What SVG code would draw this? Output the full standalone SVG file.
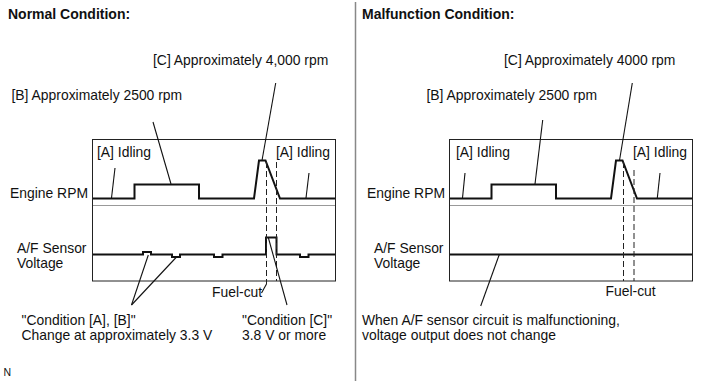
<svg xmlns="http://www.w3.org/2000/svg" width="713" height="381" viewBox="0 0 713 381">
<style>
text{font-family:"Liberation Sans",Arial,sans-serif;font-size:13.9px;fill:#111}
.title{font-weight:bold;font-size:14px}
.box{fill:none;stroke:#222;stroke-width:1}
.sep{stroke:#999;stroke-width:1.2}
.sig{fill:none;stroke:#111;stroke-width:2;stroke-linejoin:miter}
.lead{stroke:#111;stroke-width:1.1;fill:none}
.dash{stroke:#222;stroke-width:1;stroke-dasharray:6 3}
</style>
<rect width="713" height="381" fill="#fff"/>
<line x1="355.5" y1="2" x2="355.5" y2="381" stroke="#888" stroke-width="1.5"/>
<text x="3.5" y="376" style="font-size:10.5px">N</text>

<g id="normal">
  <text class="title" x="8" y="19">Normal Condition:</text>
  <text x="153" y="65">[C] Approximately 4,000 rpm</text>
  <text x="11.5" y="100">[B] Approximately 2500 rpm</text>
  <text x="97" y="157">[A] Idling</text>
  <text x="276" y="157">[A] Idling</text>
  <text x="10" y="198">Engine RPM</text>
  <text x="17" y="253">A/F Sensor</text>
  <text x="17" y="268">Voltage</text>
  <text x="212" y="297">Fuel-cut</text>
  <text x="21.5" y="324.5">"Condition [A], [B]"</text>
  <text x="21.5" y="340">Change at approximately 3.3 V</text>
  <text x="242" y="324.5">"Condition [C]"</text>
  <text x="242" y="340">3.8 V or more</text>
  <rect class="box" x="92.5" y="139.5" width="243" height="141.5"/>
  <line class="sep" x1="93" y1="205.5" x2="335" y2="205.5"/>
  <polyline class="sig" points="93,198.5 134.5,198.5 134.5,184.5 199,184.5 199,198.5 254,198.5 259,160.5 265.5,160.5 280,198.5 335,198.5"/>
  <polyline class="sig" points="93,254.5 143,254.5 143,252 151,252 151,254.5 172,254.5 172,257 180,257 180,254.5 214,254.5 214,257 222.5,257 222.5,254.5 266,254.5 266,237.5 276.5,237.5 276.5,254.5 300,254.5 300,257 308.5,257 308.5,254.5 335,254.5"/>
  <g id="normal-connectors">
    <line class="dash" x1="266.5" y1="162" x2="266.5" y2="284"/>
    <line class="dash" x1="276.5" y1="162" x2="276.5" y2="281"/>
    <line class="lead" x1="115" y1="168" x2="111.5" y2="198"/>
    <line class="lead" x1="309" y1="173" x2="306" y2="198"/>
    <line class="lead" x1="153" y1="122" x2="171" y2="184"/>
    <line class="lead" x1="275.7" y1="83" x2="262" y2="160.5"/>
    <line class="lead" x1="268.3" y1="237.5" x2="287" y2="305"/>
    <line class="lead" x1="131.5" y1="305" x2="148.3" y2="255"/>
    <line class="lead" x1="131.5" y1="305" x2="177" y2="256.5"/>
    <line class="lead" x1="261.5" y1="293" x2="266.5" y2="284"/>
  </g>
</g>

<g id="malfunction">
  <text class="title" x="362" y="19">Malfunction Condition:</text>
  <text x="504" y="65">[C] Approximately 4000 rpm</text>
  <text x="426.5" y="100">[B] Approximately 2500 rpm</text>
  <text x="456" y="157">[A] Idling</text>
  <text x="633" y="157">[A] Idling</text>
  <text x="367" y="198">Engine RPM</text>
  <text x="374" y="253">A/F Sensor</text>
  <text x="374" y="268">Voltage</text>
  <text x="605.5" y="296">Fuel-cut</text>
  <text x="362" y="324.5">When A/F sensor circuit is malfunctioning,</text>
  <text x="362" y="340">voltage output does not change</text>
  <rect class="box" x="449.5" y="139.5" width="243" height="141.5"/>
  <line class="sep" x1="450" y1="205.5" x2="692" y2="205.5"/>
  <polyline class="sig" points="450,198.5 491.5,198.5 491.5,184.5 556,184.5 556,198.5 611,198.5 616,160.5 622.5,160.5 637,198.5 692,198.5"/>
  <line class="sig" x1="450" y1="254.5" x2="692" y2="254.5"/>
  <g id="malfunction-connectors">
    <line class="dash" x1="623.5" y1="162" x2="623.5" y2="281"/>
    <line class="dash" x1="634" y1="170" x2="634" y2="281"/>
    <line class="lead" x1="465" y1="173" x2="462.5" y2="198"/>
    <line class="lead" x1="660" y1="173" x2="657.3" y2="198"/>
    <line class="lead" x1="542.7" y1="120" x2="535" y2="184"/>
    <line class="lead" x1="632.3" y1="83" x2="619.5" y2="160.5"/>
    <line class="lead" x1="499.3" y1="254.5" x2="480.7" y2="306"/>
  </g>
</g>
</svg>
